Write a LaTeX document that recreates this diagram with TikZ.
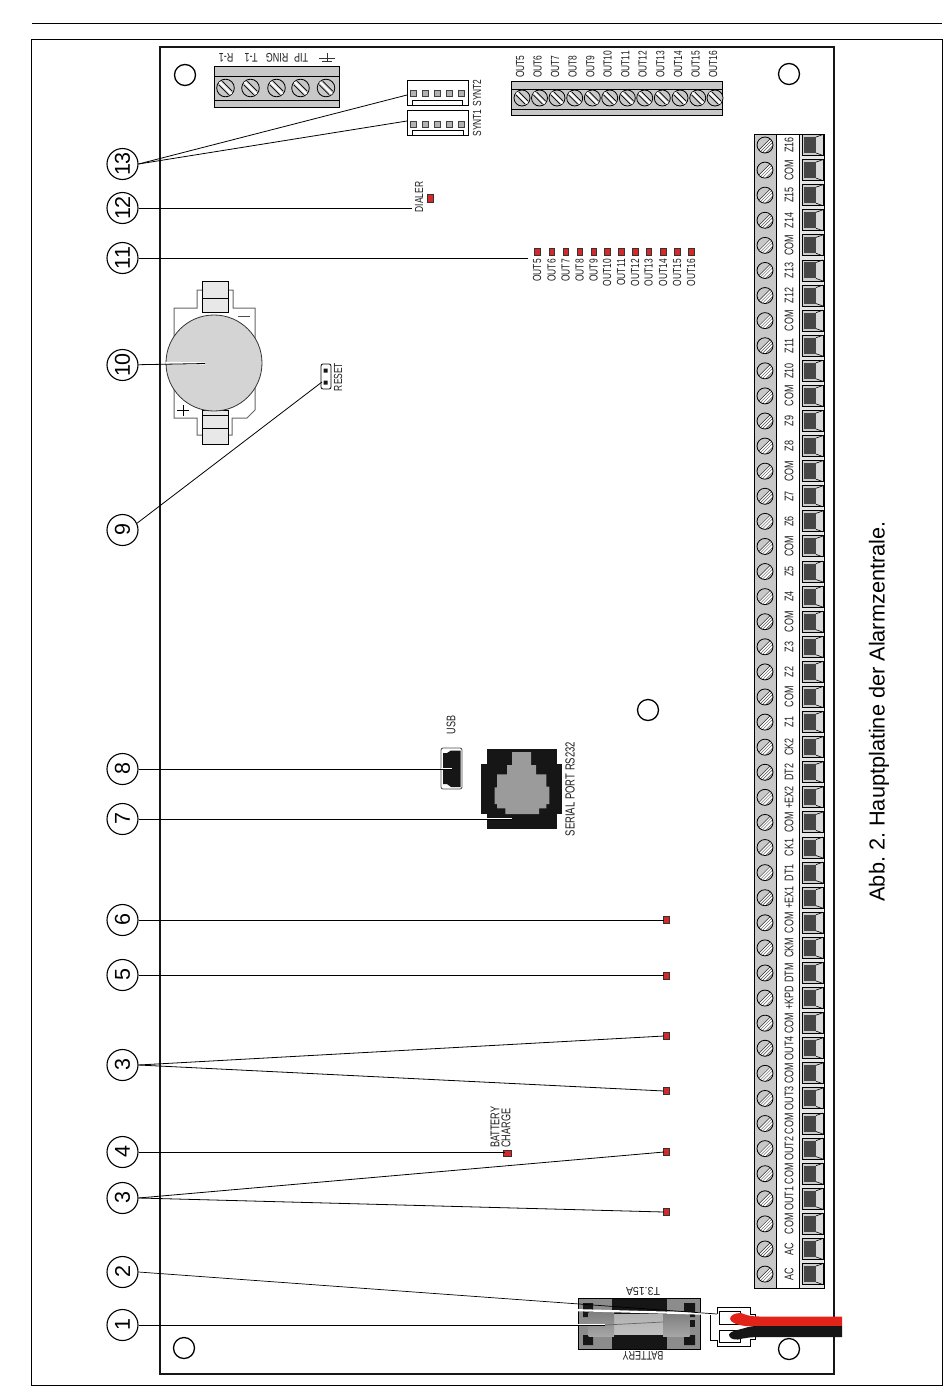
\documentclass[tikz,border=0pt]{standalone}
\usepackage{fontspec}
\setmainfont{Liberation Sans}
\newfontfamily\condf[FakeStretch=0.72]{Liberation Sans}
\newfontfamily\widef[FakeStretch=0.92]{Liberation Sans}
\definecolor{ledred}{RGB}{214,40,40}
\definecolor{wirered}{RGB}{226,35,26}
\definecolor{strip}{RGB}{200,200,200}
\definecolor{darkcell}{RGB}{70,70,70}
\definecolor{cellgray}{RGB}{205,205,205}
\definecolor{holder}{RGB}{232,232,232}
\definecolor{coin}{RGB}{212,212,212}
\definecolor{portgray}{RGB}{155,155,155}
\definecolor{inkblack}{RGB}{22,22,22}
\tikzset{
  numc/.style={circle,draw=black,line width=1.1pt,minimum size=31pt,inner sep=0pt,font=\fontsize{21.5}{22}\selectfont,fill=white},
  lead/.style={line width=0.8pt,black},
  leadw/.style={line width=2.4pt,white},
  hole/.style={circle,draw=black,line width=1.3pt,minimum size=21pt,inner sep=0pt},
  lbl/.style={inner sep=0pt,rotate=90,font=\condf\fontsize{12.5}{13}\selectfont,text=black!88},
  smalllbl/.style={inner sep=0pt,rotate=90,font=\condf\fontsize{11.7}{12}\selectfont,text=black!88},
  updown/.style={inner sep=0pt,rotate=180,font=\condf\fontsize{12.5}{13}\selectfont,text=black!88},
  led/.style={draw=black!80,line width=0.5pt,fill=ledred,inner sep=0pt,minimum width=5.5pt,minimum height=7pt},
  box/.style={draw=black,line width=0.9pt},
}
\newcommand{\termscrew}[3]{% x y radius; slot "\"
  \begin{scope}[shift={(#1,#2)}]
    \fill[strip] (0,0) circle (#3);
    \draw[black,line width=0.8pt] (0,0) circle (#3);
    \draw[white,line width=2pt] (-#3*0.68,-#3*0.68) -- (#3*0.68,#3*0.68);
    \draw[black,line width=0.7pt] (-#3*0.76,-#3*0.36) -- (#3*0.36,#3*0.76);
    \draw[black,line width=0.7pt] (-#3*0.36,-#3*0.76) -- (#3*0.76,#3*0.36);
  \end{scope}}
\newcommand{\hatchscrew}[2]{% x y: hatched "/" screw
  \begin{scope}[shift={(#1,#2)}]
    \fill[strip] (0,0) circle (8);
    \begin{scope}
      \clip (0,0) circle (8);
      \fill[white] (-7,6) -- (7,-8) -- (7,1) -- (0,8) -- (-7,8) -- cycle;
      \draw[black!85,line width=0.5pt] (-8,7) -- (8,-9);
      \draw[black!70,line width=0.4pt] (-6.5,8.5) -- (8.5,-6.5);
      \draw[black!70,line width=0.4pt] (-4.5,9.5) -- (9.5,-4.5);
      \draw[black!70,line width=0.4pt] (-2,10.5) -- (10.5,-2);
    \end{scope}
    \draw[black,line width=0.8pt] (0,0) circle (8);
  \end{scope}}
\begin{document}
\frenchspacing
\begin{tikzpicture}[x=1pt,y=-1pt]
\useasboundingbox (0,0) rectangle (950,1397);
\fill[white] (0,0) rectangle (950,1397);
% page furniture
\coordinate (ruleL) at (32,23); \coordinate (ruleR) at (942,23);
\draw[line width=0.9pt] (ruleL) -- (ruleR);
\node[draw=black,line width=1pt,inner sep=0pt,minimum width=911pt,minimum height=1346pt] (outer) at (486.5,712.5) {};
\node[draw=inkblack,line width=2.4pt,inner sep=0pt,minimum width=674pt,minimum height=1327pt,fill=white] (board) at (497,710.5) {};
% mounting holes
\node[hole] (h1) at (185,75) {};
\node[hole] (h2) at (789,74) {};
\node[hole] (h3) at (184,1348) {};
\node[hole] (h4) at (789,1349) {};
\node[hole] (h5) at (648,710) {};
% top-left terminal
\node[draw=black,line width=1pt,fill=strip,inner sep=0pt,minimum width=125pt,minimum height=40pt] (tel) at (276.5,87) {};
\draw[line width=0.9pt] (214,76) -- (339,76) (214,100) -- (339,100);
\foreach \x/\t in {226/R-1,251/T-1,277/RING,301/TIP}{ \termscrew{\x-0.5}{88}{8.8}
  \node[updown] (tl\t) at (\x,58) {\t}; }
\termscrew{326}{88}{8.8}
\draw[line width=0.7pt,black!80] (319,58) -- (335,58) (327,53) -- (327,62) (322,61) -- (332,61);
% SYNT connectors
\node[box,inner sep=0pt,minimum width=61pt,minimum height=25pt] (syn2) at (437.5,92.5) {};
\node[box,inner sep=0pt,minimum width=61pt,minimum height=25pt] (syn1) at (437.5,122.5) {};
\draw[line width=0.8pt] (412,105) -- (412,100) -- (462,100) -- (462,105);
\draw[line width=0.8pt] (412,135) -- (412,130) -- (463,130) -- (463,135);
\foreach \x in {413,425,437,449,461}{
  \fill[black!30] (\x-3,90) rectangle (\x+3,96); \draw[black!75,line width=0.6pt] (\x-3,90) rectangle (\x+3,96);
  \fill[black!30] (\x-3,121) rectangle (\x+3,127); \draw[black!75,line width=0.6pt] (\x-3,121) rectangle (\x+3,127);
}
\node[smalllbl] (synt2l) at (477,93) {SYNT2};
\node[smalllbl] (synt1l) at (477,123) {SYNT1};
% OUT terminal
\node[draw=black,line width=1pt,fill=strip,inner sep=0pt,minimum width=211pt,minimum height=34pt] (outt) at (616.5,98) {};
\draw[line width=0.9pt] (511,89) -- (722,89) (511,109) -- (722,109);
\foreach \x [count=\k from 5] in {522,539.5,557,574.7,592.3,609.7,627.3,644.7,662.3,680,697.7,715}{
  \termscrew{\x}{98}{8}
  \node[smalllbl,anchor=west] (outl\k) at (\x-2,78) {OUT\k};
}
% LEDs OUT row
\foreach \x [count=\k from 5] in {537,551.7,565.7,579.7,593.7,607,621,635,648.5,663,677,691}{
  \node[led] (ol\k) at (\x,251.5) {};
  \node[smalllbl,anchor=east] (olt\k) at (\x,259) {OUT\k};
}
\node[led,minimum width=5.5pt,minimum height=8pt] (dled) at (430,198) {};
\node[smalllbl] (dial) at (419,197) {DIALER};
% battery holder
\draw[line width=1pt,black!60,fill=white] (174,308) -- (197,308) -- (197,290) -- (233,290) -- (233,308) -- (255,308) -- (255,410) -- (247,418) -- (232,418) -- (232,435) -- (197,435) -- (197,418) -- (174,418) -- cycle;
\draw[line width=0.9pt,fill=holder] (202,281) rectangle (228,312);
\draw[line width=0.9pt] (202,298) -- (228,298);
\draw[line width=0.9pt,fill=holder] (202,410) rectangle (228,444);
\draw[line width=0.9pt] (202,428) -- (228,428) (202,415.5) -- (228,415.5);
\draw[line width=0.9pt,black!70] (238,316) -- (250,316);
\draw[line width=0.7pt] (177,410.5) -- (189,410.5) (183,405) -- (183,416);
\node[circle,draw=black!80,line width=0.8pt,fill=coin,inner sep=0pt,minimum size=96pt] (coin) at (214,363) {};
% reset
\node[draw=black,line width=0.8pt,rounded corners=2pt,inner sep=0pt,minimum width=10pt,minimum height=25pt] (reset) at (326,376.5) {};
\fill[inkblack] (323.5,368.5) rectangle (327.5,372.5) (323.5,380.5) rectangle (327.5,384.5);
\node[smalllbl] (resetl) at (338,377) {RESET};
% USB
\node[draw=black!70,line width=0.8pt,rounded corners=2pt,fill=white,inner sep=0pt,minimum width=21pt,minimum height=41pt] (usb) at (451.5,768.5) {};
\fill[inkblack] (443,753) -- (447,753) -- (451,750.5) -- (460.5,750.5) -- (460.5,787) -- (451,787) -- (447,784) -- (443,784) -- cycle;
\node[lbl] (usbl) at (451,725) {USB};
% Serial
\fill[inkblack] (487,749) rectangle (557,829);
\fill[inkblack] (481,764) rectangle (562,814);
\fill[portgray] (512,752) -- (531,752) -- (531,765) -- (536,765) -- (536,774.3) -- (546.3,774.3) -- (546.3,786.7) -- (549.3,786.7) -- (549.3,804) -- (546.3,804) -- (546.3,808.3) -- (539,808.3) -- (539,814) -- (505.3,814) -- (505.3,808.3) -- (497,808.3) -- (497,804) -- (494.7,804) -- (494.7,787.3) -- (497,787.3) -- (497,774.3) -- (507,774.3) -- (507,765) -- (512,765) -- cycle;
\node[inner sep=0pt,rotate=90,font=\condf\fontsize{13.2}{14}\selectfont,text=black!88] (serl) at (570,789) {SERIAL PORT RS232};
% Front LEDs
\node[led] (l6) at (666,920) {};
\node[led] (l5) at (666,975.5) {};
\node[led] (l3a) at (666,1036) {};
\node[led] (l3b) at (666,1091) {};
\node[led] (l3c) at (666,1152) {};
\node[led] (l3d) at (666,1212) {};
\node[led,minimum width=8pt,minimum height=6pt] (l4) at (507.5,1153) {};
\node[inner sep=0pt,rotate=90,anchor=west,font=\condf\fontsize{12.7}{13}\selectfont,text=black!88] (bt1) at (495,1148) {BATTERY};
\node[inner sep=0pt,rotate=90,anchor=west,font=\condf\fontsize{12.7}{13}\selectfont,text=black!88] (bt2) at (506,1148) {CHARGE};
% main strip
\fill[strip] (754,134) rectangle (776,1288);
\fill[white] (776,134) rectangle (799,1288);
\fill[cellgray!50] (799,134) rectangle (824,1288);
\foreach \lab [count=\i from 0] in {Z16,COM,Z15,Z14,COM,Z13,Z12,COM,Z11,Z10,COM,Z9,Z8,COM,Z7,Z6,COM,Z5,Z4,COM,Z3,Z2,COM,Z1,CK2,DT2,+EX2,COM,CK1,DT1,+EX1,COM,CKM,DTM,+KPD,COM,OUT4,COM,OUT3,COM,OUT2,COM,OUT1,COM,AC,AC}{
  \pgfmathsetmacro{\yy}{145+25.09*\i}
  \hatchscrew{765}{\yy}
  \node[lbl] (ml\i) at (789,\yy) {\lab};
  \begin{scope}[shift={(0,\yy)}]
    \fill[cellgray] (802,-10.5) rectangle (823,10.5);
    \fill[white!85!black] (816,-7.5) -- (823,-10.5) -- (823,10.5) -- (816,7.5) -- cycle;
    \fill[darkcell] (803.5,-8) rectangle (816,8);
    \draw[black,line width=0.6pt] (816,-8) -- (823,-10.5) (816,8) -- (823,10.5);
    \draw[black,line width=0.9pt] (802,-10.5) rectangle (823,10.5);
  \end{scope}
}
\draw[black,line width=0.9pt] (754,134) rectangle (824,1288);
\draw[black,line width=0.9pt] (776,134) -- (776,1288) (799,134) -- (799,1288);
% fuse block
\node[draw=black,line width=1pt,fill=inkblack,inner sep=0pt,minimum width=122pt,minimum height=51pt] (fuse) at (639,1323.5) {};
\fill[black!45] (578.5,1298.5) rectangle (612,1348.5);
\fill[black!45] (667,1298.5) rectangle (699.5,1348.5);
\fill[inkblack] (583,1303) rectangle (593,1317) (583,1335) rectangle (593,1345);
\fill[inkblack] (684,1303) rectangle (695,1317) (684,1335) rectangle (695,1345);
\fill[inkblack] (689,1320) rectangle (695,1327);
\shade[top color=black!30,middle color=white,bottom color=black!25] (613,1314) rectangle (664,1334);
\shade[top color=black!50,middle color=white,bottom color=black!35] (588.5,1312.5) rectangle (614,1336);
\shade[top color=black!50,middle color=white,bottom color=black!35] (663,1314) rectangle (689.5,1336);
\node[updown,font=\widef\fontsize{11.5}{12}\selectfont] (fusel) at (643,1291) {T3.15A};
\node[updown] (batl) at (643,1356) {BATTERY};
% battery connector
\draw[line width=0.8pt,fill=white] (717,1307) -- (750,1307) -- (750,1314) -- (755,1314) -- (755,1339) -- (750,1339) -- (750,1346) -- (717,1346) -- (717,1340) -- (710,1340) -- (710,1313) -- (717,1313) -- cycle;
\draw[line width=0.8pt] (719,1311) rectangle (740,1324) (719,1330) rectangle (740,1342);
\fill[wirered] (842,1316.5) -- (842,1326) -- (760,1326) -- (745,1326) .. controls (738,1325) and (731,1323) .. (730,1319) .. controls (730,1315) and (735,1313) .. (741,1313) .. controls (746,1315) and (750,1316.5) .. (760,1316.5) -- cycle;
\fill[inkblack] (842,1326) -- (842,1337) -- (760,1337) .. controls (750,1337) and (745,1338) .. (738,1339.5) .. controls (733,1340) and (729,1338) .. (729,1334.5) .. controls (730,1331) and (738,1330) .. (745,1328) .. controls (750,1326) and (755,1326) .. (760,1326) -- cycle;
% caption
\node[inner sep=0pt,rotate=90,font=\fontsize{21.7}{22}\selectfont] (cap) at (879,711.5) {Abb. 2. Hauptplatine der Alarmzentrale.};
% number circles
\foreach \n/\nm/\yy in {13/c13/164,12/c12/208,11/c11/258,10/c10/365,9/c9/530,8/c8/769,7/c7/819,6/c6/920,5/c5/975,3/c3a/1065,4/c4/1152,3/c3b/1198,2/c2/1272,1/c1/1325}{
  \node[numc] (\nm) at (122.5,\yy) {\rotatebox{90}{\n}};
}
% leader ends
\coordinate (e13a) at (407,95);
\coordinate (e13b) at (407,121);
\coordinate (e12) at (412,208);
\coordinate (e11) at (528,258);
\coordinate (e10) at (205,363.5);
\coordinate (e9) at (322,382);
\coordinate (e8) at (452,769);
\coordinate (e7) at (512,819);
\coordinate (e6) at (664,920);
\coordinate (e5) at (664,975);
\coordinate (e3a) at (664,1036);
\coordinate (e3b) at (664,1091);
\coordinate (e4) at (505,1152);
\coordinate (e3c) at (664,1152);
\coordinate (e3d) at (664,1212);
\coordinate (e2) at (717,1314);
\coordinate (e1) at (605,1325);
\coordinate (e1b) at (663,1322);
\draw[lead] (c13.east) -- (e13a);
\draw[lead] (c13.east) -- (e13b);
\draw[lead] (c12) -- (e12);
\draw[lead] (c11) -- (e11);
\draw[leadw] (coin.west) -- (e10);
\draw[lead] (c10) -- (e10);
\draw[lead] (c9.25) -- (e9);
\draw[white,line width=2pt] (441,769) -- (e8);
\draw[lead] (c8) -- (e8);
\draw[white,line width=2pt] (487,819) -- (e7);
\draw[lead] (c7) -- (e7);
\draw[lead] (c6) -- (e6);
\draw[lead] (c5) -- (e5);
\draw[lead] (c3a.east) -- (e3a);
\draw[lead] (c3a.east) -- (e3b);
\draw[lead] (c4) -- (e4);
\draw[lead] (c3b.east) -- (e3c);
\draw[lead] (c3b.east) -- (e3d);
\draw[white,line width=2.2pt] (578,1310.2) -- (e2);
\draw[lead,line width=0.7pt] (c2.east) -- (e2);
\draw[white,line width=2.2pt] (578,1325) -- (e1);
\draw[lead] (c1) -- (e1);
\draw[black!60,line width=0.7pt] (e1) -- (e1b);
\end{tikzpicture}
\end{document}
